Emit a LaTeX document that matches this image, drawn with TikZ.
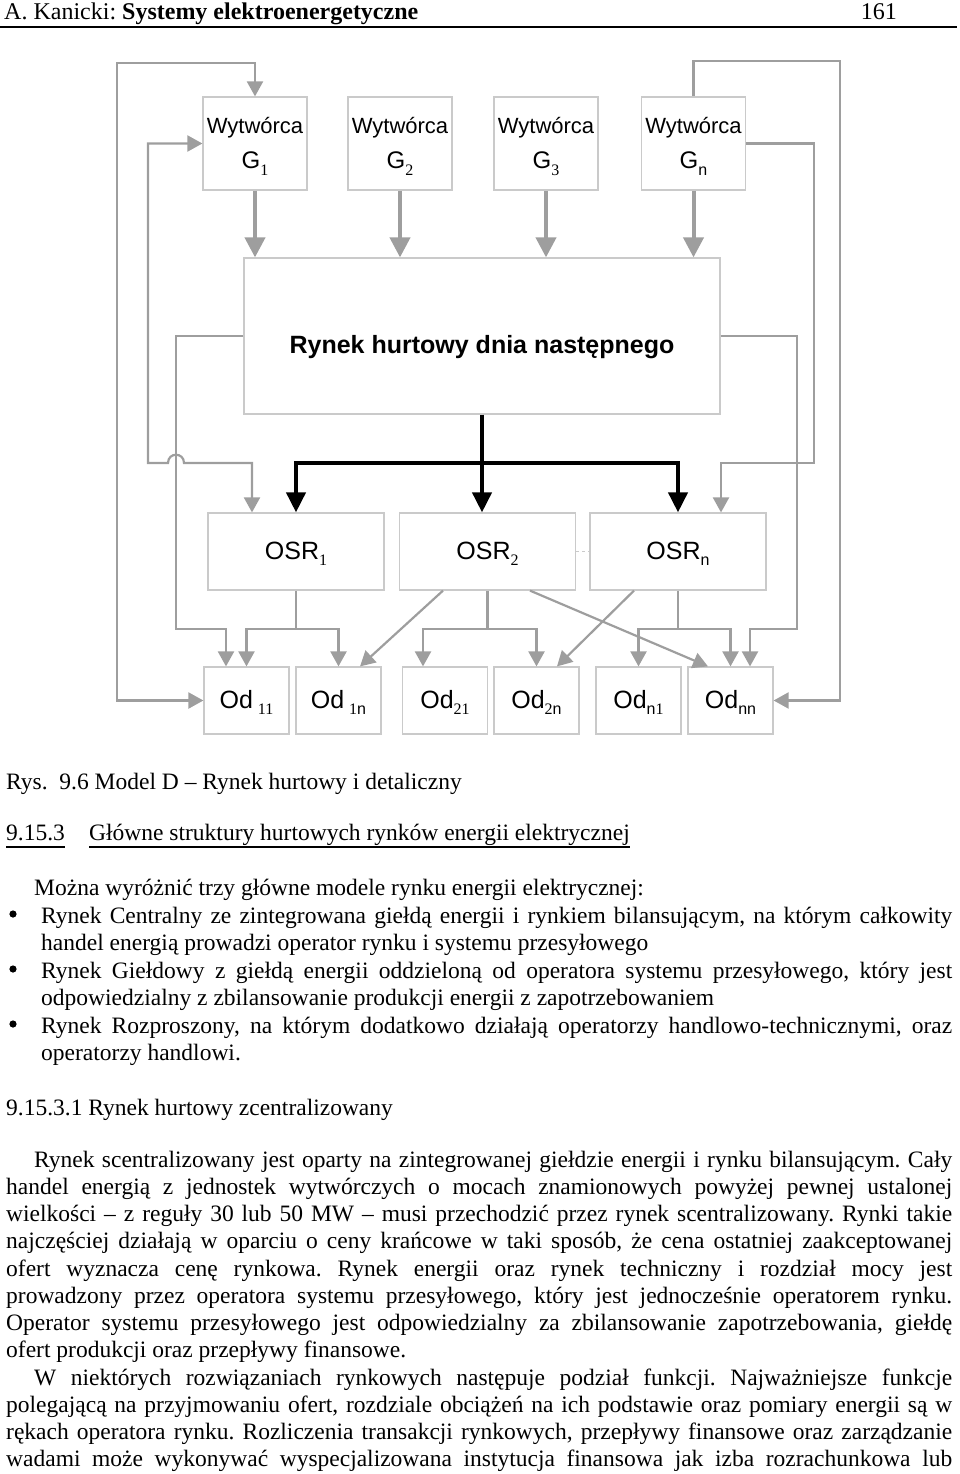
\documentclass[tikz,border=0pt]{standalone}
\usepackage{fontspec}
\setmainfont{Liberation Serif}
\newfontfamily\arialf{Liberation Sans}
\newfontfamily\timesf{Liberation Serif}
\usetikzlibrary{arrows.meta,calc}
\definecolor{lg}{RGB}{158,158,158}
\definecolor{bx}{RGB}{202,202,202}
\newcommand{\subx}[1]{\raisebox{-6pt}{\fontsize{16}{16}\selectfont #1}}
\newcommand{\jline}[2]{\makebox[#1][s]{#2}}
\newcommand{\gtop}{\rule{0pt}{26pt}}
\newcommand{\gbot}{\rule[-10pt]{0pt}{10pt}}
\frenchspacing
\begin{document}
\frenchspacing
\begin{tikzpicture}[x=1pt,y=-1pt,
 box/.style={draw=bx, line width=1.2pt, inner sep=0pt, align=center},
 gl/.style={draw=lg, line width=2.2pt},
 ga/.style={gl, -{Triangle[width=16pt,length=15pt]}},
 gaa/.style={gl, {Triangle[width=16pt,length=15pt]}-{Triangle[width=16pt,length=15pt]}},
 gga/.style={draw=lg, line width=4pt, -{Triangle[width=20pt,length=20pt]}},
 bl/.style={draw=black, line width=4pt},
 bla/.style={bl, -{Triangle[width=19pt,length=20pt]}},
 blaa/.style={bl, {Triangle[width=19pt,length=20pt]}-{Triangle[width=19pt,length=20pt]}},
 txt/.style={anchor=base west, inner sep=0pt, font=\fontsize{23.5}{27}\selectfont},
 gbox/.style={box, minimum width=104pt, minimum height=93pt, font=\arialf\fontsize{22}{35}\selectfont},
 obox/.style={box, minimum width=176pt, minimum height=77pt, text height=15pt, text depth=0pt, font=\arialf\fontsize{25}{30}\selectfont},
 dbox/.style={box, minimum width=85pt, minimum height=67pt, text height=15pt, text depth=0pt, font=\arialf\fontsize{25}{30}\selectfont}]
\useasboundingbox (0,0) rectangle (960,1474);

% ---------- header ----------
\node[txt, font=\fontsize{24}{28}\selectfont] (h1) at (4,20) {A. Kanicki: \textbf{Systemy elektroenergetyczne}};
\node[txt, anchor=base east, font=\fontsize{24}{28}\selectfont] (h2) at (897,20) {161};
\draw[line width=1.6pt] (0,27) -- (957,27);

% ---------- boxes ----------
\node[gbox] (G1) at (255,143.5) {\gtop Wytwórca\\{\fontsize{24}{35}\selectfont G}\subx{\timesf 1}\gbot};
\node[gbox] (G2) at (400,143.5) {\gtop Wytwórca\\{\fontsize{24}{35}\selectfont G}\subx{\timesf 2}\gbot};
\node[gbox] (G3) at (546,143.5) {\gtop Wytwórca\\{\fontsize{24}{35}\selectfont G}\subx{\timesf 3}\gbot};
\node[gbox] (Gn) at (693.5,143.5) {\gtop Wytwórca\\{\fontsize{24}{35}\selectfont G}\subx{n}\gbot};

\node[box, minimum width=476pt, minimum height=156pt, text height=34pt, text depth=0pt, font=\arialf\bfseries\fontsize{25}{30}\selectfont] (M) at (482,336) {Rynek hurtowy dnia następnego};

\node[obox] (O1) at (296,551.5) {OSR\subx{\timesf 1}};
\node[obox] (O2) at (487.5,551.5) {OSR\subx{\timesf 2}};
\node[obox] (On) at (678,551.5) {OSR\subx{n}};

\node[dbox] (D11) at (246.5,700.5) {Od\hspace{5pt}\subx{\timesf 11}};
\node[dbox] (D1n) at (338.5,700.5) {Od\hspace{5pt}\subx{\timesf 1\arialf n}};
\node[dbox] (D21) at (445,700.5) {Od\subx{\timesf 21}};
\node[dbox] (D2n) at (536.5,700.5) {Od\subx{\timesf 2\arialf n}};
\node[dbox] (Dn1) at (638.5,700.5) {Od\subx{n\timesf 1}};
\node[dbox] (Dnn) at (730.5,700.5) {Od\subx{nn}};

% ---------- helper coordinates ----------
\coordinate (La) at (117,63);
\coordinate (Lb) at (148,463);
\coordinate (Lc) at (176,629);
\coordinate (Ra) at (840,61);
\coordinate (Rb) at (814,463);
\coordinate (Rc) at (797,629);
\coordinate (bus) at (482,463);
\coordinate (tr) at (0,629);
\coordinate (o1in) at ($(O1.north)+(-44,0)$);
\coordinate (d11in) at ($(D11.north)+(-20.5,0)$);
\coordinate (onin) at ($(On.north)+(43,0)$);
\coordinate (dnnin) at ($(Dnn.north)+(19.5,0)$);
\coordinate (d21in) at ($(D21.north)+(-22,0)$);
\coordinate (hop) at (Lc |- Lb);

% ---------- generators to market ----------
\draw[gga] (G1.south) -- (G1.south |- M.north);
\draw[gga] (G2.south) -- (G2.south |- M.north);
\draw[gga] (G3.south) -- (G3.south |- M.north);
\draw[gga] (Gn.south) -- (Gn.south |- M.north);

% ---------- left loops ----------
\draw[gaa] (G1.north) |- (La) |- (D11.west);
\draw[gaa] (G1.west) -| (Lb) -- ($(hop)+(-8,0)$) .. controls +(0,-11) and +(0,-11) .. ($(hop)+(8,0)$) -- (o1in |- Lb) -- (o1in);
\draw[ga] (M.west) -| (Lc) -| (d11in);

% ---------- right loops ----------
\draw[ga] (Gn.north) |- (Ra) |- (Dnn.east);
\draw[ga] (Gn.east) -| (Rb) -| (onin);
\draw[ga] (M.east) -| (Rc) -| (dnnin);

% ---------- black bus ----------
\draw[bl] (M.south) -- (bus);
\draw[blaa] (O1.north) |- (bus) -| (On.north);
\draw[bla] (bus) -- (bus |- O2.north);

% ---------- OSR to Od ----------
\draw[ga] (O1.south) -- (O1.south |- tr) -| (D11.north);
\draw[ga] (O1.south |- tr) -| (D1n.north);
\draw[ga] (O2.south) -- (O2.south |- tr) -| (d21in);
\draw[ga] (O2.south |- tr) -| (D2n.north);
\draw[ga] (On.south) -- (On.south |- tr) -| (Dn1.north);
\draw[ga] (On.south |- tr) -| (Dnn.north);

\draw[ga] ($(O2.south)+(-44.5,0)$) -- ($(D1n.north)+(21.5,0)$);
\draw[ga] ($(O2.south)+(42.5,0)$) -- ($(Dnn.north)+(-22.5,0)$);
\draw[ga] ($(On.south)+(-44,0)$) -- ($(D2n.north)+(20.5,0)$);

\draw[draw=bx, dashed, line width=1pt] (O2.east) -- (On.west);

% ---------- body text ----------
\node[txt] (cap) at (6,789) {Rys.\ \ 9.6 Model D – Rynek hurtowy i detaliczny};
\node[txt] (s1) at (6,840) {9.15.3};
\node[txt] (s2) at (89,840) {Główne struktury hurtowych rynków energii elektrycznej};
\draw[line width=1.3pt] ($(s1.base west)+(0,7)$) -- ($(s1.base east)+(0,7)$);
\draw[line width=1.3pt] ($(s2.base west)+(0,7)$) -- ($(s2.base east)+(0,7)$);

\node[txt] (p0) at (34,895) {Można wyróżnić trzy główne modele rynku energii elektrycznej:};
\fill (13,914) circle (3.6pt);
\node[txt] (b1a) at (41,923) {\jline{911pt}{Rynek Centralny ze zintegrowana giełdą energii i rynkiem bilansującym, na którym całkowity}};
\node[txt] (b1b) at (41,950) {handel energią prowadzi operator rynku i systemu przesyłowego};
\fill (13,969) circle (3.6pt);
\node[txt] (b2a) at (41,978) {\jline{911pt}{Rynek Giełdowy z giełdą energii oddzieloną od operatora systemu przesyłowego, który jest}};
\node[txt] (b2b) at (41,1005) {odpowiedzialny z zbilansowanie produkcji energii z zapotrzebowaniem};
\fill (13,1024) circle (3.6pt);
\node[txt] (b3a) at (41,1033) {\jline{911pt}{Rynek Rozproszony, na którym dodatkowo działają operatorzy handlowo-technicznymi, oraz}};
\node[txt] (b3b) at (41,1060) {operatorzy handlowi.};

\node[txt] (s3) at (6,1115) {9.15.3.1 Rynek hurtowy zcentralizowany};

\node[txt] (q1) at (34,1167) {\jline{918pt}{Rynek scentralizowany jest oparty na zintegrowanej giełdzie energii i rynku bilansującym. Cały}};
\node[txt] (q2) at (6,1194.2) {\jline{946pt}{handel energią z jednostek wytwórczych o mocach znamionowych powyżej pewnej ustalonej}};
\node[txt] (q3) at (6,1221.5) {\jline{946pt}{wielkości – z reguły 30 lub 50 MW – musi przechodzić przez rynek scentralizowany. Rynki takie}};
\node[txt] (q4) at (6,1248.7) {\jline{946pt}{najczęściej działają w oparciu o ceny krańcowe w taki sposób, że cena ostatniej zaakceptowanej}};
\node[txt] (q5) at (6,1276) {\jline{946pt}{ofert wyznacza cenę rynkowa. Rynek energii oraz rynek techniczny i rozdział mocy jest}};
\node[txt] (q6) at (6,1303.2) {\jline{946pt}{prowadzony przez operatora systemu przesyłowego, który jest jednocześnie operatorem rynku.}};
\node[txt] (q7) at (6,1330.5) {\jline{946pt}{Operator systemu przesyłowego jest odpowiedzialny za zbilansowanie zapotrzebowania, giełdę}};
\node[txt] (q8) at (6,1357.7) {ofert produkcji oraz przepływy finansowe.};
\node[txt] (r1) at (34,1385) {\jline{918pt}{W niektórych rozwiązaniach rynkowych następuje podział funkcji. Najważniejsze funkcje}};
\node[txt] (r2) at (6,1412.2) {\jline{946pt}{polegającą na przyjmowaniu ofert, rozdziale obciążeń na ich podstawie oraz pomiary energii są w}};
\node[txt] (r3) at (6,1439.5) {\jline{946pt}{rękach operatora rynku. Rozliczenia transakcji rynkowych, przepływy finansowe oraz zarządzanie}};
\node[txt] (r4) at (6,1466.7) {\jline{946pt}{wadami może wykonywać wyspecjalizowana instytucja finansowa jak izba rozrachunkowa lub}};
\end{tikzpicture}
\end{document}
